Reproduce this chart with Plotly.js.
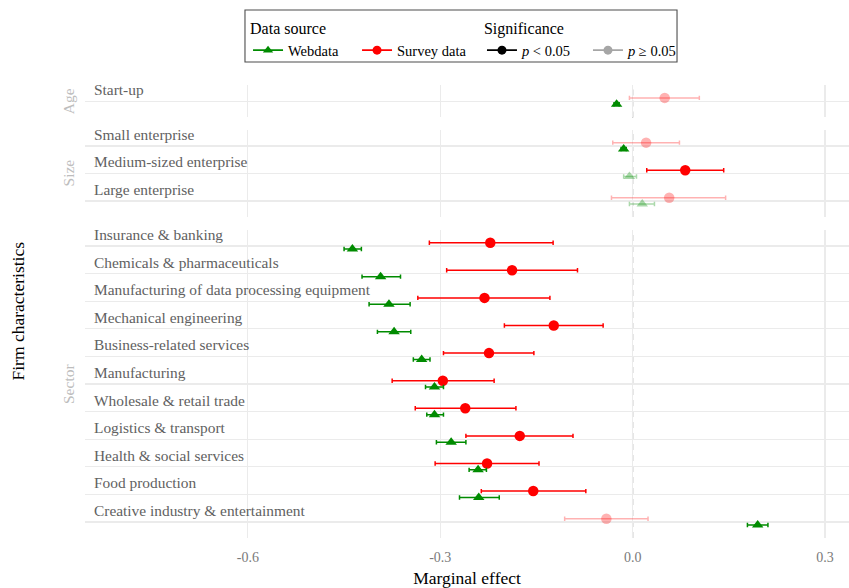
<!DOCTYPE html>
<html>
<head>
<meta charset="utf-8">
<script src="https://cdn.plot.ly/plotly-3.0.1.min.js"></script>
<style>html,body{margin:0;padding:0;background:#fff;}#chart{width:849px;height:588px;}</style>
</head>
<body>
<div id="chart"></div>
<script>
// ---------------- data ----------------
const groups = ['Age', 'Size', 'Sector'];
const categories = [
  'Start-up',
  'Small enterprise', 'Medium-sized enterprise', 'Large enterprise',
  'Insurance & banking', 'Chemicals & pharmaceuticals', 'Manufacturing of data processing equipment',
  'Mechanical engineering', 'Business-related services', 'Manufacturing', 'Wholesale & retail trade',
  'Logistics & transport', 'Health & social services', 'Food production', 'Creative industry & entertainment'
];
const categoryGroup = ['Age', 'Size', 'Size', 'Size', 'Sector', 'Sector', 'Sector', 'Sector', 'Sector',
  'Sector', 'Sector', 'Sector', 'Sector', 'Sector', 'Sector'];

const surveyEst  = [0.050, 0.021, 0.082, 0.057, -0.222, -0.188, -0.231, -0.123, -0.224, -0.296, -0.261, -0.176, -0.227, -0.155, -0.041];
const surveyLow  = [-0.005, -0.031, 0.022, -0.033, -0.317, -0.290, -0.335, -0.200, -0.295, -0.375, -0.339, -0.260, -0.308, -0.236, -0.106];
const surveyHigh = [0.104, 0.073, 0.142, 0.145, -0.124, -0.086, -0.129, -0.046, -0.154, -0.216, -0.182, -0.093, -0.146, -0.073, 0.024];
const surveySig  = [false, false, true, false, true, true, true, true, true, true, true, true, true, true, false];

const webEst  = [-0.025, -0.014, -0.005, 0.015, -0.437, -0.393, -0.380, -0.372, -0.329, -0.309, -0.309, -0.283, -0.241, -0.240, 0.195];
const webLow  = [-0.029, -0.018, -0.014, -0.005, -0.450, -0.422, -0.411, -0.398, -0.342, -0.323, -0.321, -0.306, -0.255, -0.270, 0.179];
const webHigh = [-0.021, -0.010, 0.006, 0.034, -0.423, -0.362, -0.347, -0.346, -0.316, -0.295, -0.295, -0.260, -0.228, -0.208, 0.211];
const webSig  = [true, true, false, false, true, true, true, true, true, true, true, true, true, true, true];

const xTickVals = [-0.6, -0.3, 0.0, 0.3];
const xTickText = ['-0.6', '-0.3', '0.0', '0.3'];

// ---------------- styling ----------------
const FONT = 'Liberation Serif, DejaVu Serif, serif';
const GREEN = '#008B00', RED = '#FF0000';
const GREEN_LIGHT = 'rgba(0,139,0,0.33)', RED_LIGHT = 'rgba(255,0,0,0.30)';
const yAxisIds = ['y', 'y2', 'y3'];
const yAxisKeys = ['yaxis', 'yaxis2', 'yaxis3'];
const domains = [[0.9283, 1.0], [0.7086, 0.9007], [0.0, 0.6799]];
const PAD = 0.58;
const SURVEY_OFF = -0.12, WEB_OFF = 0.11;

const traces = [];
const annotations = [];
const shapes = [];
const layout = {
  width: 849, height: 588,
  margin: {l: 85, r: 0, t: 85, b: 50, autoexpand: false},
  paper_bgcolor: '#fff', plot_bgcolor: '#fff',
  font: {family: FONT, color: '#000'},
  xaxis: {
    range: [-0.854, 0.3374], anchor: 'y3', tickvals: xTickVals, ticktext: xTickText,
    showgrid: true, gridcolor: '#EBEBEB', gridwidth: 1.1, zeroline: false, showline: false,
    ticks: 'outside', ticklen: 6, tickcolor: 'rgba(0,0,0,0)', automargin: false,
    tickfont: {family: FONT, size: 14, color: '#7a7a7a'},
    title: {text: 'Marginal effect', font: {family: FONT, size: 17.5, color: '#000'}, standoff: 7}
  },
  showlegend: true,
  legend: {
    title: {text: 'Data source', side: 'top', font: {family: FONT, size: 16, color: '#000'}},
    orientation: 'h', x: 0.2134, y: 1.158, xanchor: 'left', yanchor: 'top',
    bgcolor: 'rgba(0,0,0,0)', borderwidth: 0, itemwidth: 30, entrywidth: 64, entrywidthmode: 'pixels',
    font: {family: FONT, size: 14.5, color: '#000'}
  },
  legend2: {
    title: {text: 'Significance', side: 'top', font: {family: FONT, size: 16, color: '#000'}},
    orientation: 'h', x: 0.5196, y: 1.158, xanchor: 'left', yanchor: 'top',
    bgcolor: 'rgba(0,0,0,0)', borderwidth: 0, itemwidth: 30, entrywidth: 61, entrywidthmode: 'pixels',
    font: {family: FONT, size: 14.5, color: '#000'}
  },
  annotations: annotations,
  shapes: shapes
};

groups.forEach((g, gi) => {
  const idx = categories.map((c, i) => i).filter(i => categoryGroup[i] === g);
  const n = idx.length;
  const yid = yAxisIds[gi];
  layout[yAxisKeys[gi]] = {
    domain: domains[gi], range: [n - 1 + PAD, -PAD], anchor: 'x', automargin: false,
    tickvals: idx.map((_, k) => k), showticklabels: false, ticks: '',
    showgrid: true, gridcolor: '#EBEBEB', gridwidth: 1.1, zeroline: false, showline: false
  };
  // facet label
  annotations.push({
    text: g, xref: 'paper', x: 0, xshift: -17, yref: yid + ' domain', y: 0.5,
    textangle: -90, showarrow: false, xanchor: 'center', yanchor: 'middle',
    font: {family: FONT, size: 15.5, color: '#BDBDBD'}
  });
  // category labels
  idx.forEach((ci, k) => {
    annotations.push({
      text: categories[ci], xref: 'paper', x: 0, xshift: 7, yref: yid, y: k - 0.42,
      showarrow: false, xanchor: 'left', yanchor: 'middle',
      font: {family: FONT, size: 15.4, color: '#616161'}
    });
  });
  // dashed zero line
  shapes.push({
    type: 'line', xref: 'x', yref: yid + ' domain', x0: 0, x1: 0, y0: 0, y1: 1,
    line: {color: '#A8A8A8', width: 1.3, dash: '6px,5px'}, layer: 'below'
  });

  const addSeries = (est, low, high, sig, wantSig, color, symbol, size, off) => {
    const sel = idx.map((ci, k) => ({ci, k})).filter(o => sig[o.ci] === wantSig);
    if (!sel.length) return;
    traces.push({
      type: 'scatter', mode: 'markers', xaxis: 'x', yaxis: yid, showlegend: false, hoverinfo: 'skip',
      x: sel.map(o => est[o.ci]),
      y: sel.map(o => o.k + off),
      error_x: {
        type: 'data', symmetric: false,
        array: sel.map(o => high[o.ci] - est[o.ci]),
        arrayminus: sel.map(o => est[o.ci] - low[o.ci]),
        color: color, thickness: 1.5, width: 2.2
      },
      marker: {color: color, symbol: symbol, size: size, line: {width: 0}}
    });
  };
  addSeries(surveyEst, surveyLow, surveyHigh, surveySig, false, RED_LIGHT, 'circle', 10.5, SURVEY_OFF);
  addSeries(webEst, webLow, webHigh, webSig, false, GREEN_LIGHT, 'triangle-up', 10, WEB_OFF);
  addSeries(surveyEst, surveyLow, surveyHigh, surveySig, true, RED, 'circle', 10.5, SURVEY_OFF);
  addSeries(webEst, webLow, webHigh, webSig, true, GREEN, 'triangle-up', 10, WEB_OFF);
});

// legend entries
const legendEntries = [
  {name: 'Webdata', color: GREEN, symbol: 'triangle-up', legend: 'legend'},
  {name: 'Survey data', color: RED, symbol: 'circle', legend: 'legend'},
  {name: '<i>p</i> < 0.05', color: '#000000', symbol: 'circle', legend: 'legend2'},
  {name: '<i>p</i> ≥ 0.05', color: '#A6A6A6', symbol: 'circle', legend: 'legend2'}
];
legendEntries.forEach(e => traces.push({
  type: 'scatter', mode: 'lines+markers', x: [null], y: [null], xaxis: 'x', yaxis: 'y3',
  name: e.name, legend: e.legend, showlegend: true, hoverinfo: 'skip',
  line: {color: e.color, width: 1.8}, marker: {color: e.color, symbol: e.symbol, size: 9}
}));

// legend box and y-axis title
shapes.push({
  type: 'rect', xref: 'paper', yref: 'paper', x0: 0.2094, x1: 0.7749, y0: 1.0508, y1: 1.1656,
  line: {color: '#4d4d4d', width: 1.1}, fillcolor: 'rgba(0,0,0,0)'
});
annotations.push({
  text: 'Firm characteristics', xref: 'paper', x: 0, xshift: -68, yref: 'paper', y: 0.5,
  textangle: -90, showarrow: false, xanchor: 'center', yanchor: 'middle',
  font: {family: FONT, size: 17.5, color: '#000'}
});

Plotly.newPlot('chart', traces, layout, {displayModeBar: false, staticPlot: true});
</script>
</body>
</html>
